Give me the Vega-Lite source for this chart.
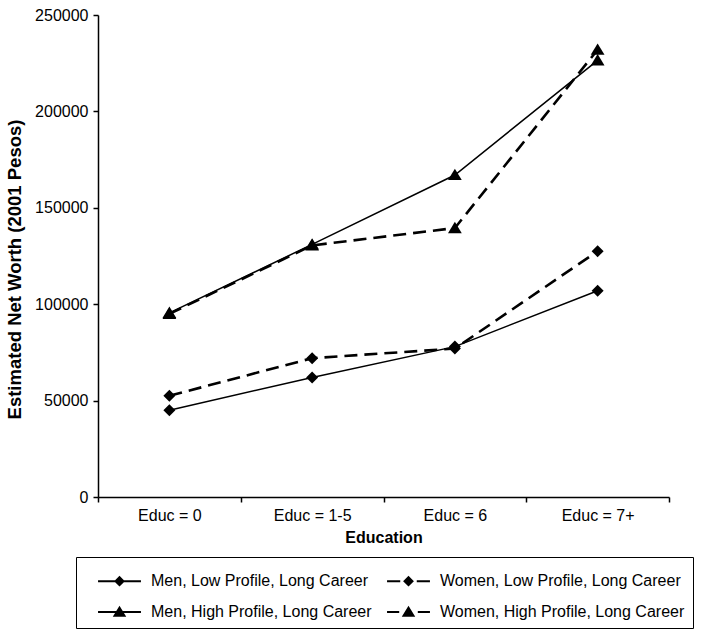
{
  "$schema": "https://vega.github.io/schema/vega-lite/v6.json",
  "width": 571,
  "height": 482,
  "padding": {"left": 5, "top": 7, "right": 5, "bottom": 5},
  "background": "white",
  "config": {
    "font": "Liberation Sans",
    "view": {"stroke": null},
    "axis": {"labelFontSize": 16, "titleFontSize": 16, "labelColor": "black", "titleColor": "black", "domainColor": "black", "tickColor": "black", "grid": false, "labelFont": "Liberation Sans", "titleFont": "Liberation Sans", "titleFontWeight": "bold", "domainWidth": 1.5, "tickWidth": 1.5, "tickSize": 5},
    "legend": {"labelFont": "Liberation Sans", "labelFontSize": 16, "labelColor": "black", "labelLimit": 400}
  },
  "data": {
    "values": [
      {"education": "Educ = 0", "gender": "Men", "profile": "Low", "series": "Men, Low Profile, Long Career", "value": 45000},
      {"education": "Educ = 1-5", "gender": "Men", "profile": "Low", "series": "Men, Low Profile, Long Career", "value": 62000},
      {"education": "Educ = 6", "gender": "Men", "profile": "Low", "series": "Men, Low Profile, Long Career", "value": 78000},
      {"education": "Educ = 7+", "gender": "Men", "profile": "Low", "series": "Men, Low Profile, Long Career", "value": 107000},
      {"education": "Educ = 0", "gender": "Women", "profile": "Low", "series": "Women, Low Profile, Long Career", "value": 52500},
      {"education": "Educ = 1-5", "gender": "Women", "profile": "Low", "series": "Women, Low Profile, Long Career", "value": 72000},
      {"education": "Educ = 6", "gender": "Women", "profile": "Low", "series": "Women, Low Profile, Long Career", "value": 77000},
      {"education": "Educ = 7+", "gender": "Women", "profile": "Low", "series": "Women, Low Profile, Long Career", "value": 127500},
      {"education": "Educ = 0", "gender": "Men", "profile": "High", "series": "Men, High Profile, Long Career", "value": 95500},
      {"education": "Educ = 1-5", "gender": "Men", "profile": "High", "series": "Men, High Profile, Long Career", "value": 131000},
      {"education": "Educ = 6", "gender": "Men", "profile": "High", "series": "Men, High Profile, Long Career", "value": 167000},
      {"education": "Educ = 7+", "gender": "Men", "profile": "High", "series": "Men, High Profile, Long Career", "value": 226500},
      {"education": "Educ = 0", "gender": "Women", "profile": "High", "series": "Women, High Profile, Long Career", "value": 95000},
      {"education": "Educ = 1-5", "gender": "Women", "profile": "High", "series": "Women, High Profile, Long Career", "value": 130500},
      {"education": "Educ = 6", "gender": "Women", "profile": "High", "series": "Women, High Profile, Long Career", "value": 139500},
      {"education": "Educ = 7+", "gender": "Women", "profile": "High", "series": "Women, High Profile, Long Career", "value": 232000}
    ]
  },
  "encoding": {
    "x": {
      "field": "education", "type": "nominal",
      "sort": ["Educ = 0", "Educ = 1-5", "Educ = 6", "Educ = 7+"],
      "scale": {"type": "band", "paddingInner": 0, "paddingOuter": 0},
      "axis": {"title": "Education", "labelAngle": 0, "tickBand": "extent", "labelPadding": 5, "titlePadding": 6}
    },
    "y": {
      "field": "value", "type": "quantitative",
      "scale": {"domain": [0, 250000], "nice": false},
      "axis": {"title": "Estimated  Net Worth (2001 Pesos)", "titleFontSize": 18.5, "titleY": 254, "values": [0, 50000, 100000, 150000, 200000, 250000], "format": "d", "labelPadding": 5, "titlePadding": 10}
    }
  },
  "layer": [
    {
      "transform": [{"filter": "datum.gender === 'Men'"}],
      "mark": {"type": "line", "color": "black", "strokeWidth": 1.5},
      "encoding": {"detail": {"field": "series"}}
    },
    {
      "transform": [{"filter": "datum.gender === 'Women'"}],
      "mark": {"type": "line", "color": "black", "strokeWidth": 2.6, "strokeDash": [13, 7]},
      "encoding": {"detail": {"field": "series"}}
    },
    {
      "transform": [{"filter": "datum.profile === 'Low'"}],
      "mark": {"type": "point", "filled": true, "color": "black", "opacity": 1, "size": 144, "shape": "M0,-1L1,0L0,1L-1,0Z"}
    },
    {
      "transform": [{"filter": "datum.profile === 'High'"}],
      "mark": {"type": "point", "filled": true, "color": "black", "opacity": 1, "size": 144, "shape": "M0,-1.05L1.15,0.85L-1.15,0.85Z"}
    },
    {
      "transform": [{"filter": "datum.value < 0"}],
      "mark": {"type": "point", "filled": true, "fill": "black", "stroke": "black", "strokeWidth": 1.6, "opacity": 1},
      "encoding": {
        "shape": {
          "field": "series", "type": "nominal",
          "scale": {
            "domain": ["Men, Low Profile, Long Career", "Women, Low Profile, Long Career", "Men, High Profile, Long Career", "Women, High Profile, Long Career"],
            "range": [
              "M-1.43,-0.07H1.43V0.07H-1.43ZM0,-0.36L0.36,0L0,0.36L-0.36,0Z",
              "M-1.43,-0.07H-0.55V0.07H-1.43ZM0.55,-0.07H1.43V0.07H0.55ZM0,-0.36L0.36,0L0,0.36L-0.36,0Z",
              "M-1.43,-0.07H1.43V0.07H-1.43ZM0,-0.42L0.45,0.32L-0.45,0.32Z",
              "M-1.43,-0.07H-0.62V0.07H-1.43ZM0.62,-0.07H1.43V0.07H0.62ZM0,-0.42L0.45,0.32L-0.45,0.32Z"
            ]
          },
          "legend": {
            "title": null,
            "orient": "none",
            "legendX": -22,
            "legendY": 542,
            "direction": "horizontal",
            "columns": 2,
            "symbolSize": 900,
            "symbolOffset": 19.5,
            "symbolStrokeWidth": 1.6,
            "symbolStrokeColor": "black",
            "symbolFillColor": "black",
            "labelOffset": 15.5,
            "labelFontSize": 16,
            "labelLimit": 400,
            "rowPadding": 6,
            "columnPadding": 1,
            "padding": 8,
            "strokeColor": "black"
          }
        }
      }
    }
  ]
}
